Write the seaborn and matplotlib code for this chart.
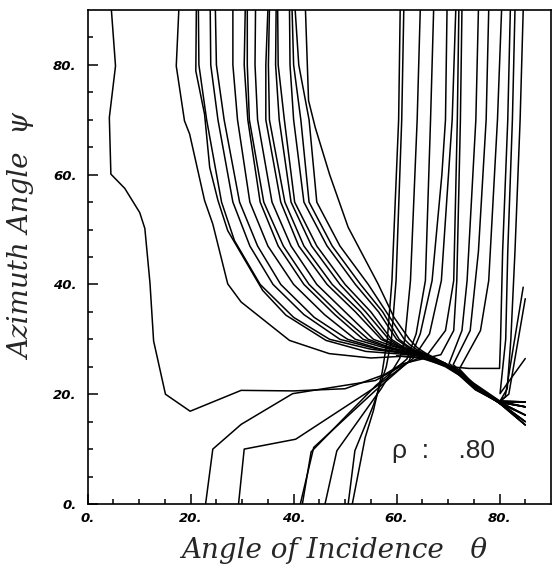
import matplotlib
matplotlib.use("Agg")
import matplotlib.pyplot as plt
import numpy as np
import pandas as pd
import seaborn as sns

# lines coming down from the top and bending into the ridge (theta, psi)
upper_curves = [
    [(17.7, 90), (17.2, 79.8), (18.8, 69.8), (19.8, 67.4), (22.7, 55.3), (24.3, 51), (27.2, 40.1), (29.8, 36.8),
     (39.2, 29.8), (46.9, 27.4), (55, 26.6), (61, 26.9), (65.6, 26.5), (69.5, 25), (72.1, 23.5), (75.3, 20.8),
     (79.8, 18.6), (85, 14.4)],
    [(21.1, 90), (21.0, 78.9), (22.7, 71), (23.7, 61.3), (25.3, 55.3), (27.2, 49.8), (34, 38.9), (38.5, 34.4),
     (46.3, 29.8), (54, 27.8), (61, 27.3), (65.6, 26.8), (69.5, 25.3), (72.1, 23.8), (75.3, 21.0), (79.8, 18.7),
     (85, 18.6)],
    [(21.5, 90), (21.6, 80), (23.1, 70), (26, 55), (28.5, 48), (33.5, 40), (40, 34), (47, 30), (55, 28.2),
     (61.2, 27.5), (65.6, 26.9), (69.5, 25.4), (72.1, 23.9), (75.3, 21.2), (79.8, 18.8), (85, 17.7)],
    [(23.8, 90), (23.9, 80), (25.3, 70), (28.2, 55), (31.5, 47), (36, 40), (42, 34.5), (49, 30), (56, 28.3),
     (61.3, 27.6), (65.6, 27), (69.5, 25.5), (72.1, 24), (75.3, 21.3), (79.8, 18.6), (85, 16.2)],
    [(24.8, 90), (25, 80), (26.5, 70), (29.5, 55), (33, 47), (37.5, 40), (44, 34), (50.5, 30), (57, 28.2),
     (61.5, 27.5), (65.6, 26.8), (69.5, 25.2), (72.1, 23.6), (75.3, 20.9), (79.8, 18.5), (85, 15)],
    [(28.2, 90), (28.2, 80), (29.1, 70), (31.5, 55), (35, 47), (40, 40), (46, 34.5), (52, 30), (57.5, 28.5),
     (61.6, 27.7), (65.6, 27.1), (69.5, 25.6), (72.1, 24.1), (75.3, 21.4), (79.8, 18.7), (85, 18.6)],
    [(30.6, 90), (30.4, 80), (31.1, 70), (33.5, 55), (37, 47), (42, 40), (48, 34.5), (53.5, 30), (58, 28.6),
     (61.8, 27.8), (65.6, 27.1), (69.5, 25.4), (72.1, 23.8), (75.3, 21.1), (79.8, 18.6), (85, 17.7)],
    [(31, 90), (31, 80), (31.4, 70), (34.2, 55), (38, 47), (43, 40), (49, 34.5), (54.5, 30), (58.5, 28.6),
     (61.8, 27.8), (65.6, 26.9), (69.5, 25.3), (72.1, 23.7), (75.3, 21), (79.8, 18.5), (85, 14.4)],
    [(32.6, 90), (32.5, 80), (33, 70), (35.8, 55), (39.5, 47), (44.5, 40), (50, 35), (55.5, 30), (59, 28.8),
     (62, 28), (65.6, 27.2), (69.5, 25.6), (72.1, 24), (75.3, 21.3), (79.8, 18.7), (85, 16.2)],
    [(35, 90), (34.6, 80), (34.6, 70), (37.5, 55), (41, 47), (46.5, 40), (52, 35), (57, 30), (59.6, 28.8),
     (62.2, 28), (65.6, 27), (69.5, 25.3), (72.1, 23.7), (75.3, 21), (79.8, 18.6), (85, 18.6)],
    [(35.3, 90), (35.1, 80), (35.3, 70), (38.3, 55), (42, 47), (47.5, 40), (53, 35), (57.5, 30), (60, 28.9),
     (62.3, 28.1), (65.6, 27.1), (69.5, 25.5), (72.1, 23.9), (75.3, 21.2), (79.8, 18.5), (85, 15)],
    [(36.6, 90), (36.5, 80), (37.2, 70), (39.5, 55), (43.5, 47), (49, 40), (54, 35), (58.5, 30), (60.5, 28.8),
     (62.5, 28), (65.6, 27), (69.5, 25.4), (72.1, 23.8), (75.3, 21.1), (79.8, 18.6), (85, 17.7)],
    [(36.9, 90), (37, 80), (38.2, 70), (40.2, 55), (44.5, 47), (50, 40), (55, 35), (59, 30), (61, 28.8),
     (62.7, 28.1), (65.6, 27.2), (69.5, 25.5), (72.1, 23.9), (75.3, 21.2), (79.8, 18.7), (85, 16.2)],
    [(39.2, 90), (39.3, 80), (40, 70), (42, 55), (46.5, 47), (52, 40), (56.5, 35), (60, 30), (61.8, 28.8),
     (63, 28), (65.6, 27.1), (69.5, 25.4), (72.1, 23.8), (75.3, 21.1), (79.8, 18.6), (85, 18.6)],
    [(39.7, 90), (40, 80), (41.4, 70), (43, 55), (47.5, 47), (53, 40), (57.3, 35), (60.5, 30), (62, 28.9),
     (63.3, 28.1), (65.6, 27.3), (69.5, 25.6), (72.1, 24), (75.3, 21.3), (79.8, 18.5), (85, 14.4)],
    [(40.3, 90), (41, 80), (43, 70), (44.5, 55), (49, 47), (54.5, 40), (58, 35), (61.5, 30), (62.6, 29),
     (63.8, 28.2), (65.6, 27.3), (69.5, 25.5), (72.1, 23.9), (75.3, 21.2), (79.8, 18.6), (85, 17.7)],
    [(42.3, 90), (42.9, 73.5), (44.2, 68.6), (47, 60), (50.6, 50.4), (56.4, 40.1), (59.5, 34), (62.5, 30),
     (64, 28.5), (65.6, 27.5), (69.5, 25.6), (72.1, 24), (75.3, 21.3), (79.8, 18.7), (85, 15)],
]

# near-vertical lines on the right, some running down to the bottom edge
right_verticals = [
    [(60.7, 90), (60.4, 70), (59.1, 40.7), (58.2, 30), (57.2, 24), (55.5, 17), (53.9, 12.1), (51.4, 0)],
    [(61.4, 90), (61, 70), (59.9, 40.7), (59, 30), (58, 25), (55.5, 18), (51.9, 9.7), (50.6, 0)],
    [(64.6, 90), (64, 70), (62.7, 40.7), (61.6, 30), (60.6, 26.5), (57, 21), (48.4, 9.7), (46.1, 0)],
    [(67.2, 90), (66.6, 70), (65.6, 40.7), (63.8, 31), (62, 26.4), (56, 21.6), (43.4, 9.5), (41.7, 0)],
    [(69.8, 90), (69.5, 70), (68.8, 60), (66.9, 40.7), (64.6, 31), (62.4, 26), (55.8, 20.6), (43.9, 10.3),
     (41.3, 0)],
    [(71.5, 90), (70.8, 70), (68.7, 40.7), (66.4, 31), (63.2, 26.5), (55.9, 21.3), (40.4, 11.8), (30.4, 10),
     (29.3, 0)],
    [(72.1, 90), (71.8, 70), (71.1, 40.7), (69.5, 31.6), (66, 27.2), (61.8, 25.6), (55.9, 22.5), (39.8, 20.1),
     (29.8, 14.5), (24.3, 10), (22.9, 0)],
    [(75.9, 90), (75.4, 70), (73.7, 40.7), (72.7, 31.6), (70.2, 25.6), (75, 22), (80, 18.8), (85, 18.6)],
    [(77.9, 90), (77.4, 70), (75.9, 46), (74.3, 31.6), (71, 25.4), (75, 21.8), (80, 18.5), (85, 17.7)],
    [(80.4, 90), (79.6, 70), (77.9, 40.7), (76.3, 31.6), (72.2, 24.6), (75.2, 21.6), (80, 18.3), (85, 16.2)],
    [(82.1, 90), (81.6, 70), (80.6, 46), (80.2, 30), (80, 24.7), (74, 24.7), (70.5, 25), (66, 26.6), (60, 27)],
    [(83, 90), (82.5, 70), (81.6, 46), (81.2, 30), (80.1, 20.1), (85, 26.5)],
    [(84.6, 90), (84, 70), (83, 46), (82.2, 30), (81.5, 21), (80, 18.6), (75, 21.6), (70, 25), (64, 26.8)],
]

# short lines starting at the right edge
right_edge = [
    [(84.6, 39.5), (81.1, 19.5), (80, 18.7), (75.3, 21.5), (70, 25), (65, 26.7)],
    [(85, 37.4), (81.8, 20), (80, 18.6), (75.3, 21.3), (70, 25.2), (65, 26.9)],
]

# the long left line, wrapping round the lower left corner
left_line = [(72.7, 90), (72.4, 70), (71.7, 40.7), (71.1, 31.6), (68.6, 27.2), (64, 26.2), (61, 25.5),
             (57.7, 23.6), (50, 21), (40, 20.6), (29.8, 20.7), (19.9, 16.9), (15.1, 20), (12.8, 29.7),
             (12.1, 40.2), (11.1, 50.2), (10.1, 53.1), (7.2, 57.5), (4.5, 60.1), (4.2, 70.4), (5.4, 79.8),
             (4.6, 90)]

x_ticks = [0, 20, 40, 60, 80]
y_ticks = [0, 20, 40, 60, 80]
x_tick_labels = ["0.", "20.", "40.", "60.", "80."]
y_tick_labels = ["0.", "20.", "40.", "60.", "80."]

rows = []
all_lines = upper_curves + right_verticals + right_edge + [left_line]
for i, line in enumerate(all_lines):
    for j, (x, y) in enumerate(line):
        rows.append({"line": i, "order": j, "x": x, "y": y})
df = pd.DataFrame(rows)

sns.set_style("white")
fig = plt.figure(figsize=(5.52, 5.68), dpi=100)
ax = fig.add_axes([0.1589, 0.1127, 0.8393, 0.8697])

sns.lineplot(data=df, x="x", y="y", units="line", estimator=None, sort=False,
             color="black", linewidth=1.1, legend=False, ax=ax)

ax.set_xlim(0, 90)
ax.set_ylim(0, 90)
ax.set_xticks(x_ticks)
ax.set_yticks(y_ticks)
ax.set_xticks(np.arange(0, 90, 5), minor=True)
ax.set_yticks(np.arange(0, 90, 5), minor=True)
tick_font = dict(family="DejaVu Sans", weight="bold", style="oblique", size=9.5)
ax.set_xticklabels(x_tick_labels, fontdict=tick_font)
ax.set_yticklabels(y_tick_labels, fontdict=tick_font)
ax.tick_params(which="both", direction="in", colors="black", width=1.1,
               bottom=True, left=True, top=False, right=False)
ax.tick_params(which="major", length=7)
ax.tick_params(which="minor", length=3.6)
ax.tick_params(axis="x", pad=6)
ax.tick_params(axis="y", pad=8)
for sp in ax.spines.values():
    sp.set_color("black")
    sp.set_linewidth(1.2)

label_font = dict(family="DejaVu Serif", style="italic", size=20)
ax.set_xlabel("Angle of Incidence   \u03b8", fontdict=label_font)
ax.set_ylabel("Azimuth Angle  \u03c8", fontdict=label_font)
ax.xaxis.set_label_coords(0.533, -0.095)
ax.xaxis.label.set_va("center")
ax.yaxis.set_label_coords(-0.14, 0.54)
ax.yaxis.label.set_va("center")

ax.text(69.05, 9.6, "\u03c1  :    .80", family="Liberation Sans", size=19,
        ha="center", va="center")

fig.savefig("out.png", dpi=100)
